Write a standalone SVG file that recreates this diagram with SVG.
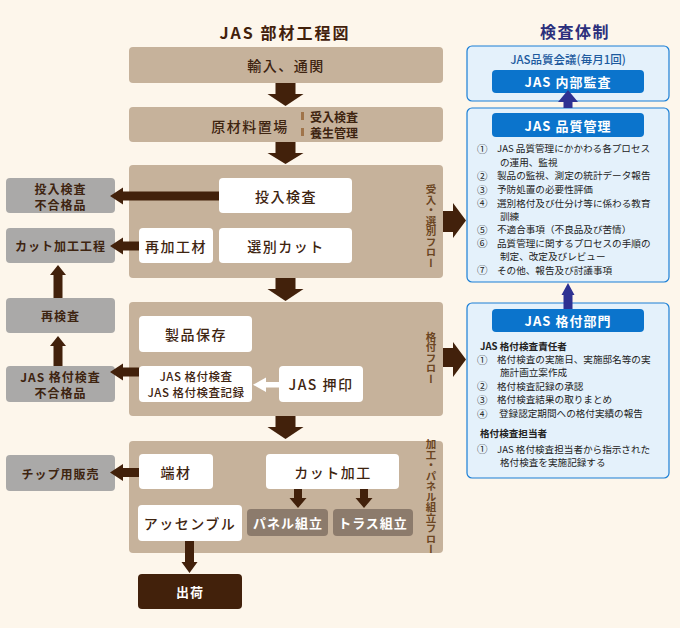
<svg xmlns="http://www.w3.org/2000/svg" width="680" height="628" viewBox="0 0 680 628">
<style>
text{font-family:"Noto Sans CJK JP","Noto Sans",sans-serif;dominant-baseline:central}
.panel{fill:#c6b29b}
.wb{fill:#fff}
.gb{fill:#aaa9a8}
.db{fill:#8c7b6c}
.bt{fill:#3e2410;font-size:14px;font-weight:500;text-anchor:middle;letter-spacing:1.5px}
.gt{fill:#3e2410;font-size:12px;font-weight:700;text-anchor:middle;letter-spacing:1px}
.g2{fill:#3e2410;font-size:11.5px;font-weight:500;text-anchor:middle;letter-spacing:0.5px}
.st{fill:#3e2410;font-size:12px;font-weight:700}
.vt{fill:#6b4522;font-size:10.5px;font-weight:700;text-anchor:middle;writing-mode:vertical-rl}
.wt{fill:#fff;font-size:13px;font-weight:700;text-anchor:middle;letter-spacing:1px}
.bp{fill:#e4f1fb;stroke:#1b7fd6;stroke-width:1.2}
.bi{fill:#0b74cc}
.it{fill:#222;font-size:9.6px}
.cn{fill:#222;font-size:10.5px}
.ib{fill:#222;font-size:9.6px;font-weight:700}
.arr{fill:#42210b}
.navy{fill:#2e3192}
</style>
<rect width="680" height="628" fill="#fdf6eb"/>
<text x="285" y="32" text-anchor="middle" fill="#42210b" font-size="16" font-weight="700" letter-spacing="2">JAS 部材工程図</text>
<text x="575" y="31" text-anchor="middle" fill="#2b2f7c" font-size="16" font-weight="700" letter-spacing="1.5">検査体制</text>

<g id="n-import"><rect class="panel" x="129" y="47" width="314" height="36" rx="4"/><text class="bt" x="286" y="65">輸入、通関</text></g>
<g id="n-storage"><rect class="panel" x="129" y="107" width="314" height="35" rx="4"/><text class="bt" x="250" y="126">原材料置場</text>
<rect x="301" y="112" width="3" height="8" fill="#a0744a"/><rect x="301" y="128" width="3" height="8" fill="#a0744a"/>
<text class="st" x="310" y="116.5">受入検査</text><text class="st" x="310" y="132.5">養生管理</text></g>

<g id="n-panel1"><rect class="panel" x="129" y="165" width="314" height="113" rx="4"/><text class="vt" x="431" y="226">受入・選別フロー</text></g>
<g id="n-input-insp"><rect class="wb" x="219" y="178" width="133" height="35" rx="4"/><text class="bt" x="286" y="195.5">投入検査</text></g>
<g id="n-rework"><rect class="wb" x="139" y="228" width="74" height="35" rx="4"/><text class="bt" x="176" y="245.5">再加工材</text></g>
<g id="n-selcut"><rect class="wb" x="219" y="228" width="133" height="35" rx="4"/><text class="bt" x="286" y="245.5">選別カット</text></g>

<g id="n-panel2"><rect class="panel" x="129" y="302" width="314" height="114" rx="4"/><text class="vt" x="431" y="358">格付フロー</text></g>
<g id="n-store"><rect class="wb" x="139" y="316" width="113" height="36" rx="4"/><text class="bt" x="196" y="334">製品保存</text></g>
<g id="n-grade"><rect class="wb" x="139" y="366" width="113" height="36" rx="4"/><text class="g2" x="196" y="376">JAS 格付検査</text><text class="g2" x="196" y="392">JAS 格付検査記録</text></g>
<g id="n-stamp"><rect class="wb" x="279" y="366" width="84" height="36" rx="4"/><text class="bt" x="321" y="384">JAS 押印</text></g>

<g id="n-panel3"><rect class="panel" x="129" y="441" width="314" height="112" rx="4"/><text class="vt" x="431" y="497" font-size="10">加工・パネル組立フロー</text></g>
<g id="n-offcut"><rect class="wb" x="139" y="454" width="74" height="35" rx="4"/><text class="bt" x="176" y="471.5">端材</text></g>
<g id="n-cut"><rect class="wb" x="266" y="454" width="133" height="35" rx="4"/><text class="bt" x="333" y="471.5">カット加工</text></g>
<g id="n-assembly"><rect class="wb" x="138" y="505" width="104" height="36" rx="4"/><text class="bt" x="190" y="523">アッセンブル</text></g>
<g id="n-panelasm"><rect class="db" x="247" y="509" width="81" height="27" rx="4"/><text class="wt" x="288" y="522.5" font-size="12.5">パネル組立</text></g>
<g id="n-truss"><rect class="db" x="333" y="509" width="80" height="27" rx="4"/><text class="wt" x="373" y="522.5" font-size="12.5">トラス組立</text></g>
<g id="n-ship"><rect x="138" y="574" width="104" height="35" rx="4" fill="#42210b"/><text class="wt" x="190" y="591.5" font-size="14">出荷</text></g>

<g id="n-reject1"><rect class="gb" x="6" y="178" width="109" height="35" rx="4"/><text class="gt" x="60.5" y="188" font-size="11.5">投入検査</text><text class="gt" x="60.5" y="204" font-size="11.5">不合格品</text></g>
<g id="n-cutproc"><rect class="gb" x="6" y="228" width="109" height="35" rx="4"/><text class="gt" x="60.5" y="245.5">カット加工工程</text></g>
<g id="n-reinsp"><rect class="gb" x="6" y="298" width="109" height="35" rx="4"/><text class="gt" x="60.5" y="315.5">再検査</text></g>
<g id="n-reject2"><rect class="gb" x="6" y="366" width="109" height="36" rx="4"/><text class="gt" x="60.5" y="376" font-size="11.5">JAS 格付検査</text><text class="gt" x="60.5" y="392" font-size="11.5">不合格品</text></g>
<g id="n-chip"><rect class="gb" x="6" y="455" width="109" height="36" rx="4"/><text class="gt" x="60.5" y="473">チップ用販売</text></g>

<g id="n-meeting"><rect class="bp" x="467" y="46" width="202" height="55" rx="5"/>
<text x="568" y="59" text-anchor="middle" fill="#1d5a9e" font-size="11.5" font-weight="500">JAS品質会議(毎月1回)</text>
<rect class="bi" x="492" y="70" width="152" height="23" rx="4"/><text class="wt" x="568" y="81.5">JAS 内部監査</text></g>

<g id="n-qm"><rect class="bp" x="467" y="108" width="202" height="174" rx="5"/>
<rect class="bi" x="492" y="113" width="152" height="24" rx="4"/><text class="wt" x="568" y="125">JAS 品質管理</text>
<text class="cn" x="477" y="148">①</text><text class="it" x="497" y="148">JAS 品質管理にかかわる各プロセス</text>
<text class="it" x="500" y="161.5">の運用、監視</text>
<text class="cn" x="477" y="175">②</text><text class="it" x="497" y="175">製品の監視、測定の統計データ報告</text>
<text class="cn" x="477" y="189">③</text><text class="it" x="497" y="189">予防処置の必要性評価</text>
<text class="cn" x="477" y="202.5">④</text><text class="it" x="497" y="202.5">選別格付及び仕分け等に係わる教育</text>
<text class="it" x="500" y="215.5">訓練</text>
<text class="cn" x="477" y="229">⑤</text><text class="it" x="497" y="229">不適合事項（不良品及び苦情）</text>
<text class="cn" x="477" y="242.5">⑥</text><text class="it" x="497" y="242.5">品質管理に関するプロセスの手順の</text>
<text class="it" x="500" y="256">制定、改定及びレビュー</text>
<text class="cn" x="477" y="269.5">⑦</text><text class="it" x="497" y="269.5">その他、報告及び討議事項</text></g>

<g id="n-grading"><rect class="bp" x="467" y="303" width="202" height="175" rx="5"/>
<rect class="bi" x="492" y="309" width="152" height="23" rx="4"/><text class="wt" x="568" y="320.5">JAS 格付部門</text>
<text class="ib" x="480" y="345.5">JAS 格付検査責任者</text>
<text class="cn" x="477" y="359">①</text><text class="it" x="497" y="359">格付検査の実施日、実施邸名等の実</text>
<text class="it" x="500" y="372">施計画立案作成</text>
<text class="cn" x="477" y="385.5">②</text><text class="it" x="497" y="385.5">格付検査記録の承認</text>
<text class="cn" x="477" y="399">③</text><text class="it" x="497" y="399">格付検査結果の取りまとめ</text>
<text class="cn" x="477" y="413">④</text><text class="it" x="499" y="413">登録認定期間への格付実績の報告</text>
<text class="ib" x="480" y="433">格付検査担当者</text>
<text class="cn" x="477" y="448.5">①</text><text class="it" x="497" y="448.5">JAS 格付検査担当者から指示された</text>
<text class="it" x="500" y="461.5">格付検査を実施記録する</text></g>

<g id="connectors">
<path class="arr" d="M275.5 83H295.5V94H303.5L285.5 106L267.5 94H275.5Z"/>
<path class="arr" d="M275.5 142H295.5V153H303.5L285.5 164L267.5 153H275.5Z"/>
<path class="arr" d="M275.5 278H295.5V289H303.5L285.5 301L267.5 289H275.5Z"/>
<path class="arr" d="M275.5 416H295.5V427H303.5L285.5 439L267.5 427H275.5Z"/>
<path class="arr" d="M219 191.5V200.5H123V204.5L110 196L123 187.5V191.5Z"/>
<path class="arr" d="M139 241.5V250.5H123V254.5L110 246L123 237.5V241.5Z"/>
<path class="arr" d="M139 367.5V376.5H123V380.5L110 372L123 363.5V367.5Z"/>
<path class="arr" d="M139 468V477H123V481L110 472.5L123 464V468Z"/>
<path class="arr" d="M53.5 298V275H50L58 265L66 275H62.5V298Z"/>
<path class="arr" d="M53.5 366V346H50L58 336L66 346H62.5V366Z"/>
<path d="M279 382V387.5H266V392L253 384.7L266 377.5V382Z" fill="#fff"/>
<path class="arr" d="M294 489H302V498H306.5L298 508L289.5 498H294Z"/>
<path class="arr" d="M360 489H368V498H372.5L364 508L355.5 498H360Z"/>
<path class="arr" d="M185 541H194V562H197.5L189.5 573L181.5 562H185Z"/>
<path class="arr" d="M443 211H453V203L466 220.5L453 238V232H443Z"/>
<path class="arr" d="M443 348H453V342L466 359.5L453 377V367H443Z"/>
<path class="navy" d="M563.5 108V102H558L568 90L578 102H572.5V108Z"/>
<path class="navy" d="M563.5 309V295H561.5L568 283L574.5 295H572.5V309Z"/>
</g>
</svg>
